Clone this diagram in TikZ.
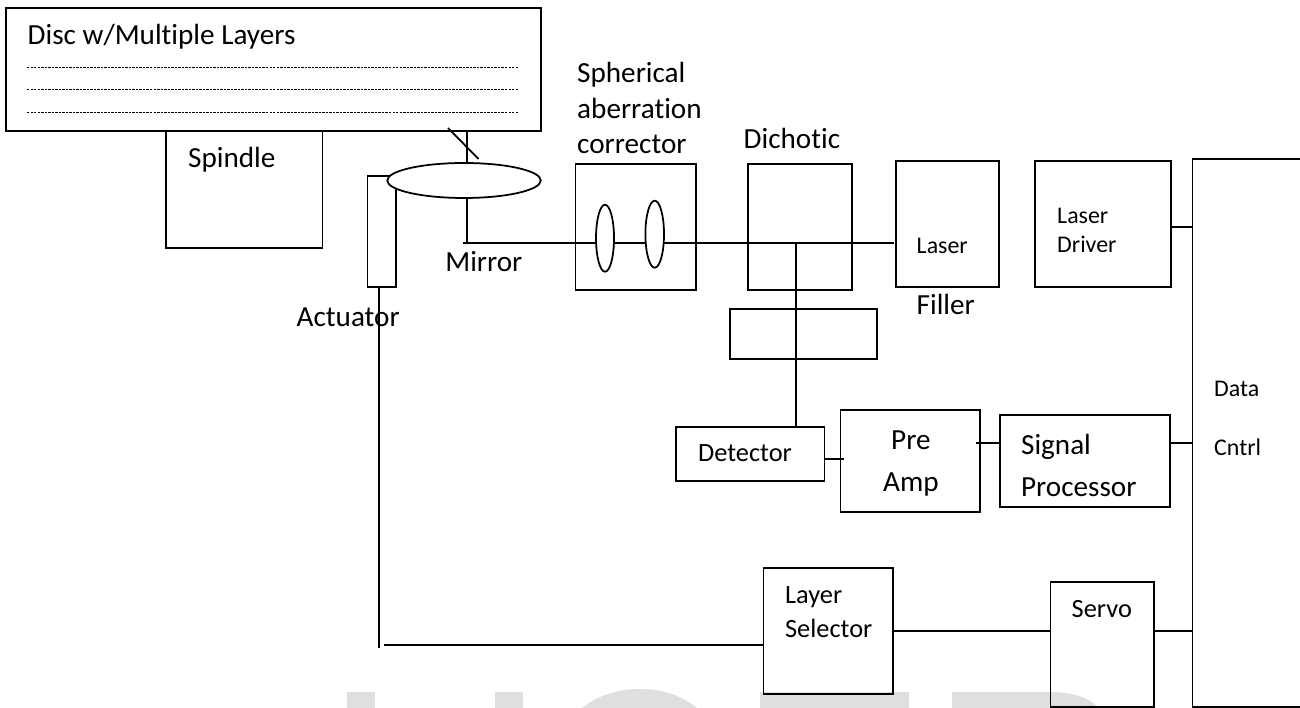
\documentclass[tikz,border=0pt]{standalone}
\usepackage{fontspec}
\setmainfont{Carlito}[Ligatures=CommonOff]
\usetikzlibrary{shapes.geometric}

\begin{document}
\begin{tikzpicture}[
    box/.style={draw, line width=0.5pt, inner sep=0pt, outer sep=0pt},
    lensbox/.style={box, ellipse, fill=white},
    wire/.style={line width=0.5pt},
    layerline/.style={line width=0.25pt, dash pattern=on 0.7pt off 0.3pt},
    bigtext/.style={inner sep=0pt, anchor=base west, align=left, font=\fontsize{8.3}{10.24}\selectfont},
    midtext/.style={inner sep=0pt, anchor=base west, align=left, font=\fontsize{7.5}{9.67}\selectfont},
    smalltext/.style={inner sep=0pt, anchor=base west, align=left, font=\fontsize{6.8}{8.25}\selectfont}
  ]
  \useasboundingbox (0,0) rectangle (13,-7.08);

  % watermark
  \fill[gray!25!white] (3.47,-7.08) rectangle (3.75,-6.92);
  \fill[gray!25!white] (4.95,-7.08) rectangle (5.23,-6.92);
  \fill[gray!25!white] (5.82,-7.08) .. controls (6,-6.94) and (6.2,-6.89) .. (6.395,-6.89)
    .. controls (6.6,-6.89) and (6.8,-6.94) .. (6.97,-7.08) -- cycle;
  \fill[gray!25!white] (7.6,-7.08) rectangle (9.09,-6.92);
  \fill[gray!25!white] (9.52,-7.08) -- (9.52,-6.92) -- (10.5,-6.92)
    .. controls (10.7,-6.92) and (10.9,-6.97) .. (10.98,-7.08) -- cycle;

  % boxes
  \node[box, line width=0.7pt, minimum width=5.35cm, minimum height=1.23cm] (disc) at (2.735,-0.695) {};
  \node[box, minimum width=1.565cm, minimum height=1.17cm] (spindle) at (2.4425,-1.895) {};
  \node[box, minimum width=0.285cm, minimum height=1.11cm] (actuator) at (3.8175,-2.315) {};
  \node[box, minimum width=1.204cm, minimum height=1.263cm] (corrector) at (6.358,-2.2685) {};
  \node[box, minimum width=1.04cm, minimum height=1.26cm] (dichotic) at (8,-2.267) {};
  \node[box, minimum width=1.03cm, minimum height=1.26cm] (laser) at (9.475,-2.24) {};
  \node[box, minimum width=1.357cm, minimum height=1.26cm] (driver) at (11.0285,-2.24) {};
  \node[box, minimum width=1.575cm, minimum height=5.48cm] (data) at (12.7125,-4.33) {};
  \node[box, minimum width=1.47cm, minimum height=0.5cm] (filter) at (8.035,-3.34) {};
  \node[box, minimum width=1.485cm, minimum height=0.54cm] (detector) at (7.5025,-4.54) {};
  \node[box, minimum width=1.392cm, minimum height=1.02cm] (preamp) at (9.1,-4.61) {};
  \node[box, minimum width=1.7cm, minimum height=0.92cm] (signal) at (10.85,-4.61) {};
  \node[box, minimum width=1.295cm, minimum height=1.26cm] (selector) at (8.2825,-6.31) {};
  \node[box, minimum width=1.032cm, minimum height=1.25cm] (servo) at (11.021,-6.445) {};

  \coordinate (mirror) at (4.67,-2.43);
  \coordinate (beamstart) at (4.63,-2.43);
  \coordinate (beamend) at (8.94,-2.43);
  \coordinate (split) at (7.963,-2.43);
  \coordinate (tilttop) at (4.48,-1.28);
  \coordinate (tiltend) at (4.785,-1.59);
  \coordinate (actfoot) at (3.79,-6.48);
  \coordinate (selfeed) at (3.84,-6.45);

  % connectors
  \draw[wire] (beamstart) -- (beamend);
  \draw[wire] (split) -- (split |- detector.north);
  \draw[wire] (actuator.south -| actfoot) -- (actfoot);
  \draw[wire] (selfeed) -- (selfeed -| selector.west);
  \draw[wire] (selector.east) -- (selector.east -| servo.west);
  \draw[wire] (selector.east -| servo.east) -- (selector.east -| data.west);
  \draw[wire] (driver.east |- 0,-2.267) -- (data.west |- 0,-2.267);
  \draw[wire] (detector.east |- 0,-4.59) -- (8.437,-4.59);
  \draw[wire] (9.76,-4.43) -- (signal.west |- 0,-4.43);
  \draw[wire] (signal.east |- 0,-4.43) -- (data.west |- 0,-4.43);

  % lenses
  \node[lensbox, minimum width=1.535cm, minimum height=0.35cm] (objective) at (4.64,-1.805) {};
  \node[lensbox, minimum width=0.18cm, minimum height=0.67cm] (lensa) at (6.05,-2.382) {};
  \node[lensbox, minimum width=0.186cm, minimum height=0.67cm] (lensb) at (6.547,-2.342) {};
  \draw[wire] (disc.south -| mirror) -- (mirror |- objective.north);
  \draw[wire] (mirror |- objective.south) -- (mirror);
  \draw[wire] (tilttop) -- (tiltend);

  % disc layers
  \foreach \ly in {-0.67,-0.89,-1.12}
    \draw[layerline] (0.27,\ly) -- (5.18,\ly);

  % labels
  \node[bigtext] (disclabel) at (0.27,-0.45) {Disc w/Multiple Layers};
  \node[bigtext] (spindlelabel) at (1.875,-1.68) {Spindle};
  \node[bigtext] (mirrorlabel) at (4.446,-2.72) {Mirror};
  \node[bigtext] (actuatorlabel) at (2.96,-3.27) {Actuator};
  \node[bigtext] (correctorlabel) at (5.765,-1.54) {Spherical\\aberration\\corrector};
  \node[bigtext] (dichoticlabel) at (7.43,-1.49) {Dichotic};
  \node[smalltext] (laserlabel) at (9.16,-2.54) {Laser};
  \node[bigtext] (fillerlabel) at (9.16,-3.15) {Filler};
  \node[smalltext] (driverlabel) at (10.565,-2.53) {Laser\\Driver};
  \node[smalltext] (datalabel) at (12.135,-4.56) {Data\\[8.8pt]Cntrl};
  \node[midtext] (detectorlabel) at (6.975,-4.62) {Detector};
  \node[bigtext, align=center] (preamplabel) at (8.824,-4.91) {Pre\\[1.7pt]Amp};
  \node[bigtext] (signallabel) at (10.204,-4.96) {Signal\\[1.7pt]Processor};
  \node[midtext] (selectorlabel) at (7.844,-6.37) {Layer\\Selector};
  \node[midtext] (servolabel) at (10.71,-6.17) {Servo};
\end{tikzpicture}
\end{document}
